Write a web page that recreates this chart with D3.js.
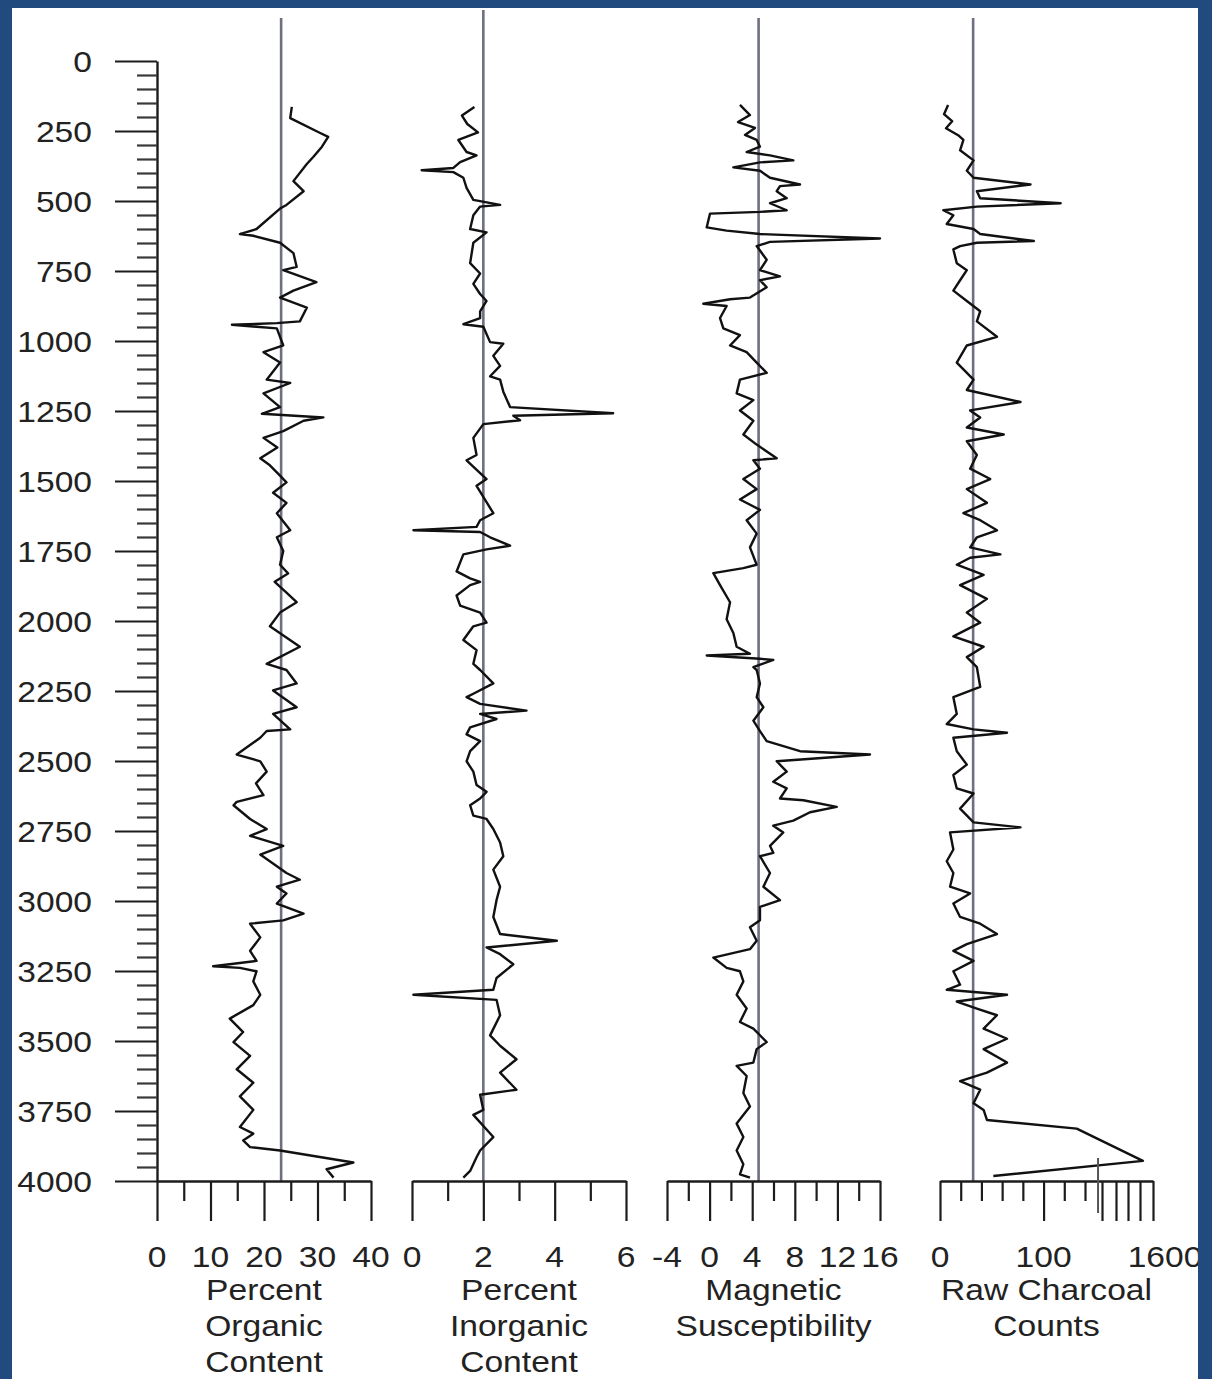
<!DOCTYPE html>
<html>
<head>
<meta charset="utf-8">
<script src="https://cdn.jsdelivr.net/npm/d3@7"></script>
<style>
  html, body { margin: 0; padding: 0; background: #214a7f; }
  svg { display: block; }
</style>
</head>
<body>
<script>
// ---- data (depth, value) ----

const organicDepth = [164, 204, 257, 271, 307, 343, 368, 429, 465, 514, 527, 600, 618, 624, 649, 686, 735, 747, 790, 820, 845, 881, 930, 936, 942, 949, 955, 1016, 1040, 1077, 1138, 1150, 1187, 1236, 1260, 1273, 1285, 1322, 1346, 1380, 1419, 1444, 1481, 1505, 1542, 1578, 1615, 1676, 1701, 1750, 1799, 1830, 1860, 1895, 1933, 1970, 2019, 2092, 2153, 2175, 2223, 2248, 2308, 2332, 2387, 2393, 2417, 2477, 2501, 2538, 2580, 2622, 2646, 2658, 2707, 2743, 2767, 2803, 2834, 2900, 2924, 2949, 2973, 3009, 3045, 3069, 3081, 3130, 3178, 3214, 3233, 3239, 3251, 3287, 3335, 3372, 3420, 3468, 3504, 3553, 3601, 3649, 3698, 3746, 3807, 3831, 3855, 3879, 3891, 3934, 3958, 3988];
const organicPct = [25.2, 24.9, 30.5, 32.0, 30.8, 29.2, 28.0, 25.5, 27.4, 24.2, 23.0, 18.6, 15.5, 18.0, 23.0, 25.5, 26.1, 23.6, 29.8, 25.5, 23.0, 28.0, 26.7, 22.4, 14.0, 18.6, 22.4, 23.6, 19.9, 23.0, 20.5, 24.9, 19.9, 23.0, 19.6, 31.1, 27.4, 23.6, 19.9, 22.5, 19.3, 21.1, 23.0, 24.2, 21.7, 24.2, 22.4, 24.9, 22.4, 23.6, 23.0, 24.5, 22.0, 24.0, 26.1, 23.0, 21.1, 26.7, 20.5, 24.2, 26.1, 21.7, 26.1, 21.7, 24.9, 20.5, 19.3, 14.9, 19.3, 20.5, 18.5, 19.9, 14.9, 14.3, 17.4, 20.5, 17.4, 23.6, 19.3, 24.2, 26.7, 22.4, 24.2, 22.4, 27.4, 23.6, 17.4, 19.3, 17.4, 18.6, 10.5, 15.5, 18.6, 18.0, 19.3, 18.0, 13.6, 16.1, 14.3, 17.4, 14.9, 18.0, 15.5, 18.0, 15.5, 18.0, 16.1, 17.4, 23.0, 36.7, 31.7, 33.0];

const inorganicDepth = [164, 195, 225, 255, 282, 325, 337, 361, 382, 390, 397, 417, 453, 496, 514, 520, 551, 600, 612, 649, 722, 759, 796, 832, 857, 894, 918, 940, 949, 1004, 1010, 1053, 1089, 1126, 1138, 1181, 1236, 1258, 1267, 1283, 1297, 1346, 1407, 1426, 1493, 1517, 1615, 1640, 1664, 1676, 1682, 1701, 1731, 1744, 1762, 1823, 1848, 1860, 1872, 1909, 1945, 1970, 2006, 2019, 2068, 2104, 2153, 2175, 2223, 2260, 2272, 2296, 2320, 2332, 2350, 2380, 2405, 2429, 2465, 2501, 2538, 2586, 2610, 2634, 2658, 2695, 2707, 2743, 2791, 2840, 2888, 2949, 2997, 3057, 3118, 3142, 3166, 3190, 3226, 3275, 3317, 3335, 3353, 3408, 3480, 3517, 3565, 3613, 3674, 3692, 3746, 3764, 3843, 3891, 3915, 3964, 3988];
const inorganicPct = [1.75, 1.40, 1.55, 1.85, 1.30, 1.53, 1.81, 1.35, 1.16, 0.27, 1.16, 1.44, 1.53, 1.72, 2.47, 1.91, 1.72, 1.63, 2.09, 1.72, 1.63, 1.91, 1.72, 1.91, 2.09, 1.91, 1.91, 1.44, 2.00, 2.19, 2.56, 2.28, 2.47, 2.19, 2.47, 2.56, 2.75, 5.64, 2.84, 3.03, 2.00, 1.72, 1.81, 1.53, 2.09, 1.81, 2.28, 1.91, 1.81, 0.04, 1.91, 2.19, 2.75, 2.09, 1.44, 1.25, 1.63, 1.91, 1.63, 1.25, 1.35, 1.91, 2.09, 1.72, 1.44, 1.81, 1.72, 1.91, 2.28, 1.72, 1.53, 1.91, 3.21, 1.91, 2.37, 1.63, 1.53, 1.91, 1.63, 1.53, 1.72, 1.81, 2.09, 1.91, 1.63, 1.72, 2.09, 2.28, 2.47, 2.56, 2.28, 2.47, 2.37, 2.28, 2.47, 4.06, 2.09, 2.47, 2.84, 2.37, 2.28, 0.04, 2.37, 2.47, 2.19, 2.47, 2.93, 2.47, 2.93, 1.91, 2.00, 1.72, 2.28, 1.91, 1.81, 1.63, 1.44];

const magDepth = [157, 193, 218, 239, 264, 282, 306, 325, 337, 355, 362, 380, 392, 417, 441, 447, 465, 490, 508, 533, 539, 545, 594, 606, 618, 634, 646, 661, 710, 747, 769, 783, 808, 845, 851, 867, 875, 918, 955, 979, 1016, 1040, 1077, 1114, 1138, 1187, 1211, 1248, 1285, 1334, 1370, 1419, 1426, 1456, 1493, 1529, 1566, 1603, 1640, 1688, 1737, 1799, 1811, 1829, 1872, 1933, 1994, 2043, 2092, 2117, 2123, 2135, 2139, 2165, 2175, 2223, 2272, 2308, 2356, 2393, 2429, 2465, 2477, 2501, 2538, 2574, 2598, 2634, 2640, 2664, 2683, 2713, 2731, 2755, 2803, 2828, 2840, 2900, 2949, 2997, 3021, 3069, 3094, 3142, 3172, 3202, 3239, 3251, 3287, 3335, 3384, 3432, 3456, 3504, 3529, 3577, 3589, 3625, 3686, 3734, 3795, 3843, 3891, 3940, 3976, 3988];
const magSusc = [2.85, 3.79, 2.67, 4.26, 3.32, 4.42, 4.73, 3.48, 5.67, 7.86, 4.73, 2.23, 4.73, 5.67, 8.49, 6.61, 6.30, 7.24, 5.67, 7.24, 4.73, 0.04, -0.27, 1.60, 4.73, 16.0, 5.67, 4.42, 5.36, 4.73, 6.61, 4.73, 5.36, 3.79, 1.92, -0.59, 1.60, 0.98, 1.29, 2.85, 1.92, 3.48, 4.42, 5.36, 2.85, 2.54, 4.11, 2.85, 4.11, 3.17, 4.42, 6.30, 4.11, 4.73, 3.17, 4.42, 2.85, 4.73, 3.48, 4.42, 3.79, 4.42, 3.17, 0.35, 0.98, 1.92, 1.60, 2.23, 2.54, 3.79, -0.27, 4.73, 5.98, 4.11, 4.42, 4.73, 4.42, 5.05, 4.11, 4.73, 5.36, 8.49, 15.06, 6.30, 7.24, 5.98, 7.24, 6.61, 8.80, 11.93, 9.43, 7.86, 5.98, 6.92, 5.67, 5.98, 4.73, 5.67, 5.05, 6.61, 4.73, 4.73, 3.79, 4.42, 3.79, 0.35, 1.60, 2.85, 3.17, 2.54, 3.48, 2.85, 4.11, 5.36, 4.42, 4.11, 2.54, 3.48, 3.17, 3.79, 2.54, 3.17, 2.54, 3.17, 2.85, 3.79];

const charcoalDepth = [157, 190, 215, 240, 265, 282, 319, 355, 392, 417, 441, 465, 490, 508, 520, 533, 551, 582, 600, 618, 643, 649, 661, 673, 722, 747, 783, 820, 857, 894, 930, 985, 1016, 1077, 1138, 1175, 1218, 1248, 1273, 1309, 1334, 1358, 1407, 1456, 1493, 1529, 1578, 1615, 1640, 1676, 1701, 1737, 1762, 1774, 1799, 1835, 1872, 1921, 1970, 2006, 2055, 2092, 2129, 2165, 2235, 2272, 2332, 2368, 2387, 2399, 2417, 2465, 2513, 2550, 2598, 2616, 2670, 2719, 2737, 2755, 2816, 2858, 2900, 2949, 2973, 3009, 3057, 3081, 3118, 3154, 3178, 3214, 3251, 3299, 3317, 3335, 3359, 3384, 3408, 3456, 3492, 3529, 3577, 3613, 3643, 3674, 3722, 3746, 3782, 3813, 3928, 3982];
const charcoalCounts = [7.8, 3.9, 11.7, 5.8, 17.5, 22.6, 19.4, 32.4, 25.9, 32.4, 87.4, 35.6, 38.8, 116.5, 35.6, 3.2, 12.9, 6.5, 32.4, 38.8, 90.6, 35.6, 19.4, 12.9, 16.2, 25.9, 19.4, 12.9, 25.9, 38.8, 35.6, 55.0, 25.9, 16.2, 32.4, 25.9, 77.7, 29.1, 38.8, 25.9, 61.5, 25.9, 35.6, 29.1, 48.5, 25.9, 45.3, 22.6, 38.8, 55.0, 35.6, 29.1, 58.3, 29.1, 16.2, 42.1, 19.4, 45.3, 25.9, 38.8, 12.9, 42.1, 25.9, 35.6, 38.8, 12.9, 16.2, 6.5, 32.4, 64.7, 12.9, 16.2, 25.9, 12.9, 16.2, 32.4, 19.4, 32.4, 77.7, 9.7, 12.9, 6.5, 12.9, 9.7, 29.1, 12.9, 19.4, 38.8, 55.0, 25.9, 12.9, 32.4, 12.9, 19.4, 6.5, 64.7, 16.2, 35.6, 55.0, 42.1, 64.7, 42.1, 64.7, 45.3, 19.4, 38.8, 32.4, 42.1, 45.3, 132, 1290, 51.5];

// mean lines drawn through each column
const refValues = [23.2, 2.0, 4.6, 32];

// tick values and labels
const depthTicks = [0, 250, 500, 750, 1000, 1250, 1500, 1750, 2000, 2250, 2500, 2750, 3000, 3250, 3500, 3750, 4000];
const organicTicks = [0, 10, 20, 30, 40];
const inorganicTicks = [0, 2, 4, 6];
const magTicks = [-4, 0, 4, 8, 12, 16];
const charcoalTicks = [0, 100, 200, 400, 800, 1200, 1600];
const charcoalLabels = [0, 100, 1600];
const titles = [
  ["Percent", "Organic", "Content"],
  ["Percent", "Inorganic", "Content"],
  ["Magnetic", "Susceptibility"],
  ["Raw Charcoal", "Counts"]
];

// ---- drawing ----
const W = 1212, H = 1379;
const FONT = "'Liberation Sans', Arial, sans-serif";
const INK = "#1c1c1c";

const svg = d3.select("body").append("svg")
  .attr("width", W)
  .attr("height", H);

svg.append("rect").attr("width", W).attr("height", H).attr("fill", "#214a7f");
svg.append("rect").attr("x", 12).attr("y", 8).attr("width", 1186).attr("height", H).attr("fill", "#fff");

const y = d3.scaleLinear().domain([0, 4000]).range([61, 1181]);
const base = y(4000);

// the letters in the original are a bit wider than Arial
function label(g, x, yy, txt, anchor) {
  g.append("text")
    .attr("transform", `translate(${x},${yy}) scale(1.12,1)`)
    .attr("text-anchor", anchor || "middle")
    .attr("font-family", FONT)
    .attr("font-size", 30)
    .attr("fill", "#222")
    .text(txt);
}

function styleAxis(sel, w) {
  sel.select(".domain").attr("stroke", INK).attr("stroke-width", 2.4);
  sel.selectAll(".tick line").attr("stroke", INK).attr("stroke-width", w);
}

// depth axis
const yAxis = svg.append("g").attr("transform", "translate(157,0)")
  .call(d3.axisLeft(y).tickValues(depthTicks).tickSize(42).tickSizeOuter(0).tickFormat(""));
styleAxis(yAxis, 2.2);
const yMinor = svg.append("g").attr("transform", "translate(157,0)")
  .call(d3.axisLeft(y).tickValues(d3.range(50, 4000, 50).filter(d => d % 250 != 0)).tickSize(20).tickFormat(""));
yMinor.select(".domain").remove();
yMinor.selectAll(".tick line").attr("stroke", "#3a3a3a").attr("stroke-width", 2.2);

depthTicks.forEach(t => label(svg, 92, y(t) + 11, t, "end"));

// columns
const panels = [
  { depth: organicDepth, vals: organicPct, ref: refValues[0],
    x: d3.scaleLinear().domain([0, 40]).range([157, 371]),
    major: organicTicks, minor: [5, 15, 25, 35], labels: organicTicks, shift: [] },
  { depth: inorganicDepth, vals: inorganicPct, ref: refValues[1],
    x: d3.scaleLinear().domain([0, 6]).range([412, 626]),
    major: inorganicTicks, minor: [1, 3, 5], labels: inorganicTicks, shift: [] },
  { depth: magDepth, vals: magSusc, ref: refValues[2],
    x: d3.scaleLinear().domain([-4, 16]).range([667, 880]),
    major: magTicks, minor: [-2, 2, 6, 10, 14], labels: magTicks, shift: [] },
  { depth: charcoalDepth, vals: charcoalCounts, ref: refValues[3],
    // broken scale: linear to 140, compressed above
    x: d3.scaleLinear().domain([0, 140, 200, 400, 800, 1200, 1600]).range([940, 1085, 1102, 1116, 1128, 1140, 1153]),
    major: charcoalTicks, minor: [20, 40, 60, 80, 120, 140], labels: charcoalLabels, shift: [0, 0, 12] }
];

panels.forEach((p, i) => {
  const g = svg.append("g");

  // mean line
  g.append("line")
    .attr("x1", p.x(p.ref)).attr("x2", p.x(p.ref))
    .attr("y1", i == 1 ? y(-182) : y(-154)).attr("y2", base)
    .attr("stroke", "#6c7080").attr("stroke-width", 2.6);

  const ax = g.append("g").attr("transform", `translate(0,${base})`)
    .call(d3.axisBottom(p.x).tickValues(p.major).tickSize(40).tickSizeOuter(0).tickFormat(""));
  styleAxis(ax, 2.2);
  const mn = g.append("g").attr("transform", `translate(0,${base})`)
    .call(d3.axisBottom(p.x).tickValues(p.minor).tickSize(20).tickFormat(""));
  mn.select(".domain").remove();
  mn.selectAll(".tick line").attr("stroke", INK).attr("stroke-width", 2.2);

  const pts = p.depth.map((d, k) => [d, p.vals[k]]);
  g.append("path")
    .datum(pts)
    .attr("fill", "none")
    .attr("stroke", "#111")
    .attr("stroke-width", 2.4)
    .attr("stroke-linejoin", "round")
    .attr("d", d3.line().x(d => p.x(d[1])).y(d => y(d[0])));

  p.labels.forEach((t, k) => label(g, p.x(t) + (p.shift[k] || 0), base + 86, t));

  const cx = (p.x.range()[0] + p.x.range()[p.x.range().length - 1]) / 2;
  titles[i].forEach((t, k) => label(g, cx, base + 119 + k * 36, t));
});

// break mark on the charcoal axis
const xc = panels[3].x;
svg.append("line")
  .attr("x1", xc(186)).attr("x2", xc(186))
  .attr("y1", base - 23).attr("y2", base + 32)
  .attr("stroke", "#555").attr("stroke-width", 2);

// right frame drawn last, it cuts the last label like the original
svg.append("rect").attr("x", 1198).attr("y", 0).attr("width", 14).attr("height", H).attr("fill", "#214a7f");
</script>
</body>
</html>
